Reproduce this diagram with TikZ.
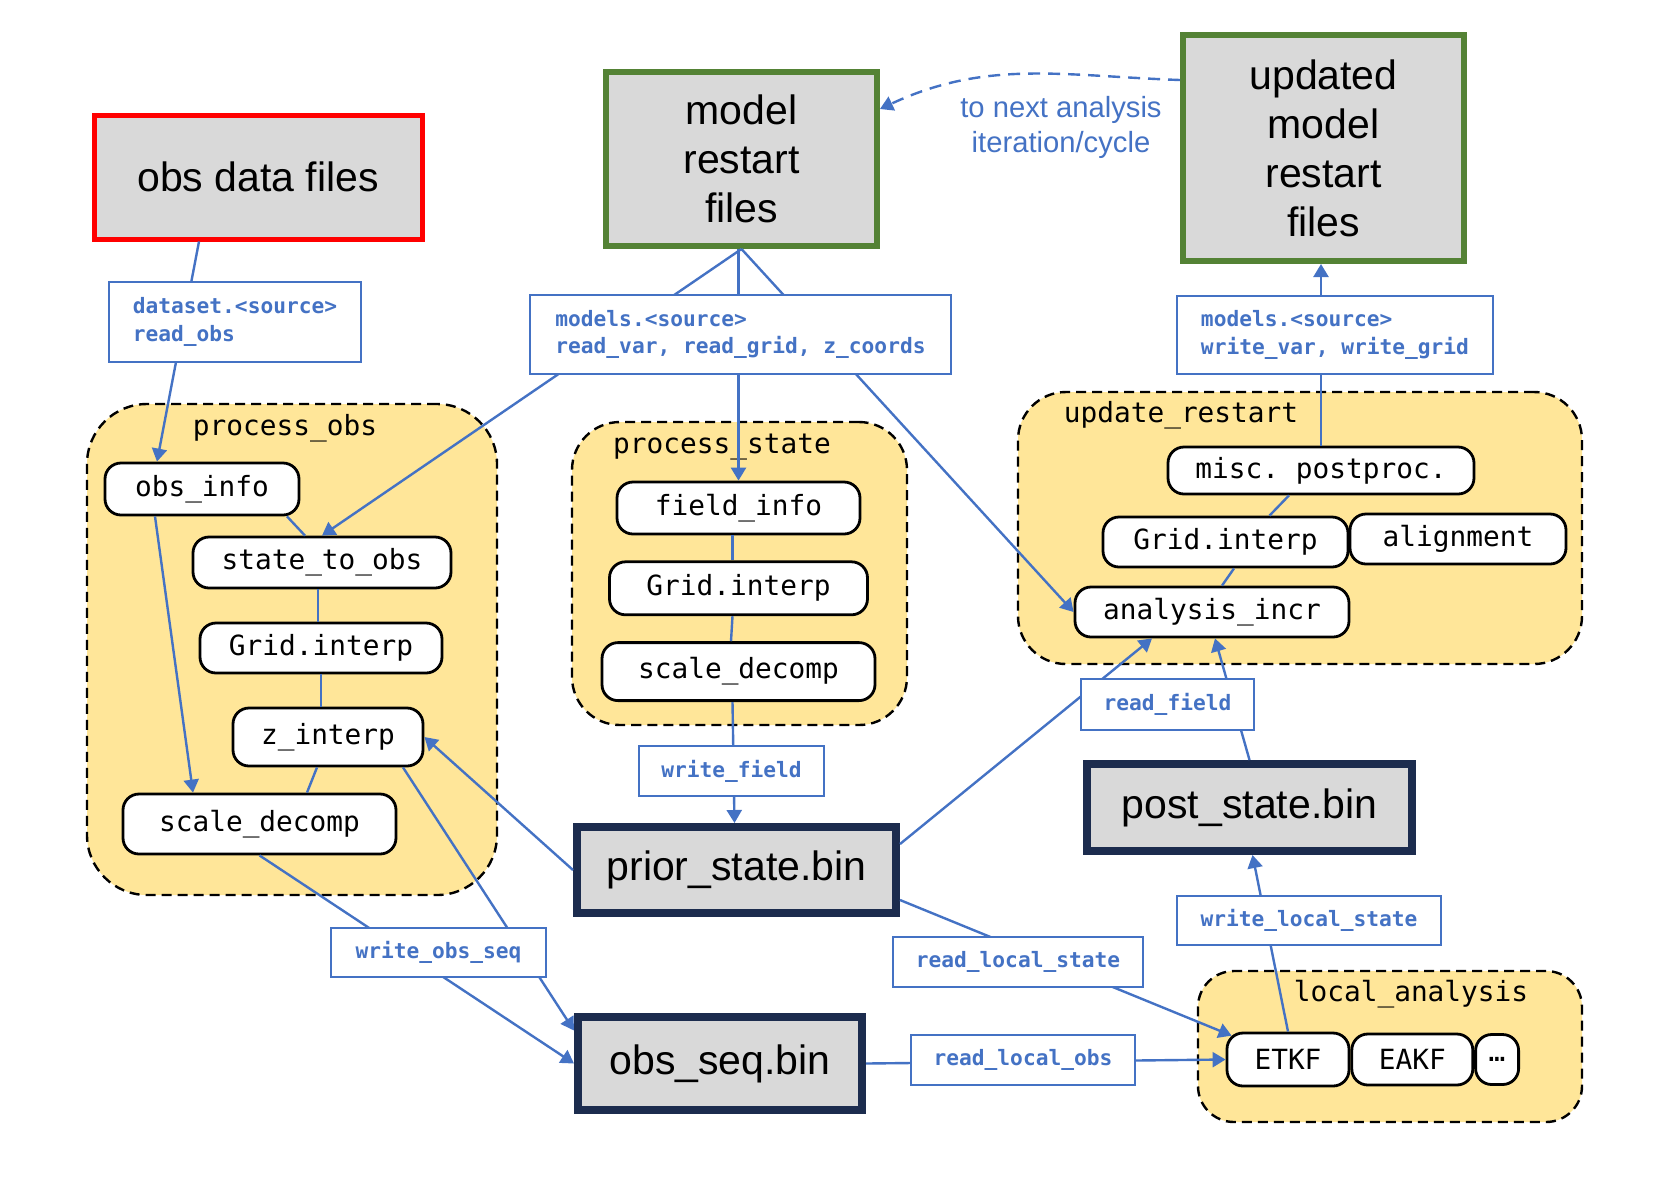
\documentclass[tikz,border=0pt]{standalone}
\usepackage{fontspec}
\setmainfont{Liberation Sans}
\setmonofont{DejaVu Sans Mono}
\usepackage{xcolor}
\usepackage{tikz}
\usetikzlibrary{arrows.meta, positioning, calc}

\definecolor{linkblue}{HTML}{4472C4}
\definecolor{groupyellow}{HTML}{FFE699}
\definecolor{boxgray}{HTML}{D9D9D9}
\definecolor{binnavy}{HTML}{1C2C4E}
\definecolor{modelgreen}{HTML}{548235}

\newcommand{\filefont}{\fontsize{20.5}{24.5}\selectfont}
\newcommand{\funcfont}{\ttfamily\fontsize{13.9}{16}\selectfont}
\newcommand{\callfont}{\ttfamily\bfseries\fontsize{10.6}{13.8}\selectfont}
\newcommand{\notefont}{\fontsize{14.6}{17.5}\selectfont}

\begin{document}
\begin{tikzpicture}[
  x=0.5pt, y=-0.5pt,
  file/.style={
    rectangle,
    fill=boxgray,
    align=center,
    font=\filefont,
    inner sep=0pt
  },
  obsfile/.style={file, draw=red, line width=2.5pt},
  modelfile/.style={file, draw=modelgreen, line width=3pt},
  binfile/.style={file, draw=binnavy, line width=4pt},
  group/.style={
    rectangle,
    rounded corners=24pt,
    draw,
    fill=groupyellow,
    dash pattern=on 5pt off 3pt,
    line width=1.2pt
  },
  grouptitle/.style={
    font=\funcfont,
    inner sep=0pt
  },
  func/.style={
    rectangle,
    rounded corners=8pt,
    draw,
    fill=white,
    line width=1.4pt,
    font=\funcfont,
    inner sep=0pt
  },
  call/.style={
    rectangle,
    draw=linkblue,
    fill=white,
    line width=1.2pt,
    align=left,
    text=linkblue,
    font=\callfont,
    inner sep=0pt
  },
  note/.style={
    align=center,
    text=linkblue,
    font=\notefont
  },
  link/.style={
    draw=linkblue,
    line width=1.2pt
  },
  arrow/.style={
    link,
    -{Triangle[length=6.5pt, width=7.5pt]}
  }
]
\useasboundingbox (0,0) rectangle (1676,1196);

% Module groups
\node[group, rounded corners=30pt, minimum width=205pt, minimum height=245.5pt] (pobs) at (292,649.5) {};
\node[group, minimum width=167.5pt, minimum height=151.5pt] (pstate) at (739.5,573.5) {};
\node[group, minimum width=282pt, minimum height=136pt] (update) at (1300,528) {};
\node[group, rounded corners=18pt, minimum width=192pt, minimum height=75.5pt] (local) at (1390,1046.5) {};

\node[grouptitle] (pobstitle) at (285,428) {process\_obs};
\node[grouptitle] (pstatetitle) at (722,447) {process\_state};
\node[grouptitle] (updatetitle) at (1181,415) {update\_restart};
\node[grouptitle] (localtitle) at (1411,994) {local\_analysis};

% process_obs steps
\node[func, minimum width=97pt, minimum height=26pt] (obsinfo) at (202,489) {obs\_info};
\node[func, minimum width=129pt, minimum height=25.5pt] (stateobs) at (322,562.5) {state\_to\_obs};
\node[func, minimum width=121pt, minimum height=25pt] (gridobs) at (321,648) {Grid.interp};
\node[func, minimum width=95pt, minimum height=29pt] (zinterp) at (328,737) {z\_interp};
\node[func, minimum width=136.5pt, minimum height=30pt] (scaleobs) at (259.5,824) {scale\_decomp};

% process_state steps
\node[func, minimum width=121.5pt, minimum height=26pt] (fieldinfo) at (738.5,508) {field\_info};
\node[func, minimum width=129pt, minimum height=26.5pt, below=12.5pt of fieldinfo] (gridstate) {Grid.interp};
\node[func, minimum width=136.5pt, minimum height=29pt, below=12.5pt of gridstate] (scalestate) {scale\_decomp};

% update_restart steps
\node[func, minimum width=153pt, minimum height=23.5pt] (misc) at (1321,470.5) {misc.\ postproc.};
\node[func, minimum width=122.5pt, minimum height=25pt] (gridupd) at (1225.5,542) {Grid.interp};
\node[func, minimum width=108pt, minimum height=25pt] (align) at (1458,539) {alignment};
\node[func, minimum width=137pt, minimum height=25pt] (analysis) at (1212,612) {analysis\_incr};

% local_analysis filters
\node[func, minimum width=61pt, minimum height=26.5pt] (etkf) at (1288,1059.5) {ETKF};
\node[func, minimum width=60.5pt, minimum height=25.5pt, right=0pt of etkf] (eakf) {EAKF};
\node[func, minimum width=21.5pt, minimum height=25pt, right=0pt of eakf] (more) {…};

% Files
\node[obsfile, minimum width=164pt, minimum height=62pt] (obsdata) at (258,177) {obs data files};
\node[modelfile, minimum width=135.5pt, minimum height=87pt] (model) at (741.5,159) {model\\restart\\files};
\node[modelfile, minimum width=140.5pt, minimum height=113pt] (updated) at (1323.5,148) {updated\\model\\restart\\files};
\node[binfile, minimum width=159.5pt, minimum height=43pt] (prior) at (736.5,870) {prior\_state.bin};
\node[binfile, minimum width=142pt, minimum height=46.5pt] (obsseq) at (720,1063.5) {obs\_seq.bin};
\node[binfile, minimum width=162.5pt, minimum height=43.5pt] (post) at (1249.5,807.5) {post\_state.bin};

% Reading inputs
\draw[arrow] ($(obsdata.south)+(-59,0)$) -- ($(obsinfo.north)+(-45,0)$);
\draw[arrow] (model.south) -- (stateobs.north);
\draw[arrow] (fieldinfo.north |- model.south) -- (fieldinfo.north);
\draw[arrow] (model.south) -- (analysis.west);

% process_obs links
\draw[link] ($(obsinfo.south)+(85,0)$) -- ($(stateobs.north)+(-17,0)$);
\draw[link] ($(stateobs.south)+(-4,0)$) -- ($(gridobs.north)+(-3,0)$);
\draw[link] (gridobs.south) -- (gridobs.south |- zinterp.north);
\draw[link] ($(zinterp.south)+(-11,0)$) -- ($(scaleobs.north)+(47.5,0)$);
\draw[arrow] ($(obsinfo.south)+(-47,0)$) -- ($(scaleobs.north)+(-66.5,0)$);
\draw[arrow] (prior.west) -- (zinterp.east);

% Writing obs sequence
\draw[arrow] (scaleobs.south) -- (obsseq.west);
\draw[arrow] ($(zinterp.south)+(75,0)$) -- ($(obsseq.west)+(0,-33)$);

% process_state links
\draw[link] ($(fieldinfo.south)+(-6,0)$) -- ($(gridstate.north)+(-6,0)$);
\draw[link] ($(gridstate.south)+(-6,0)$) -- ($(scalestate.north)+(-7.5,0)$);
\draw[arrow] ($(scalestate.south)+(-6,0)$) -- ($(prior.north)+(-2,0)$);

% update_restart links
\draw[link] ($(misc.south)+(-32,0)$) -- ($(gridupd.north)+(44,0)$);
\draw[link] ($(gridupd.south)+(8.5,0)$) -- ($(analysis.north)+(10,0)$);
\draw[arrow] (misc.north) -- (misc.north |- updated.south);
\draw[arrow] ($(prior.east)+(0,-26)$) -- ($(analysis.south)+(-60,0)$);
\draw[arrow] (post.north) -- ($(analysis.south)+(3,0)$);

% local_analysis links
\draw[arrow] ($(prior.east)+(0,30)$) -- ($(etkf.north west)+(6,4)$);
\draw[arrow] (obsseq.east) -- (etkf.west);
\draw[arrow] (etkf.north) -- ($(post.south)+(3,0)$);

% Next cycle
\draw[arrow, dash pattern=on 6pt off 4pt] ($(updated.north west)+(0,48)$) to[out=178, in=25] ($(model.east)+(0,-50)$);
\node[note] (nextnote) at (1061,127) {to next analysis\\iteration/cycle};

% Function calls on the links
\node[call, minimum width=126pt, minimum height=40pt] (readobs) at (235,322) {dataset.<source>\\read\_obs};
\node[call, minimum width=210.5pt, minimum height=39.5pt] (readmodel) at (740.5,334.5) {models.<source>\\read\_var, read\_grid, z\_coords};
\node[call, minimum width=158pt, minimum height=39pt] (writemodel) at (1335,335) {models.<source>\\write\_var, write\_grid};
\node[call, minimum width=92.5pt, minimum height=25pt] (writefield) at (731.5,771) {write\_field};
\node[call, minimum width=86.5pt, minimum height=25.5pt] (readfield) at (1167.5,704.5) {read\_field};
\node[call, minimum width=107.5pt, minimum height=24.5pt] (writeobsseq) at (438.5,952.5) {write\_obs\_seq};
\node[call, minimum width=125pt, minimum height=25pt] (readlocalstate) at (1018,962) {read\_local\_state};
\node[call, minimum width=112pt, minimum height=25pt] (readlocalobs) at (1023,1060) {read\_local\_obs};
\node[call, minimum width=132pt, minimum height=24.5pt] (writelocalstate) at (1309,920.5) {write\_local\_state};

\end{tikzpicture}
\end{document}
